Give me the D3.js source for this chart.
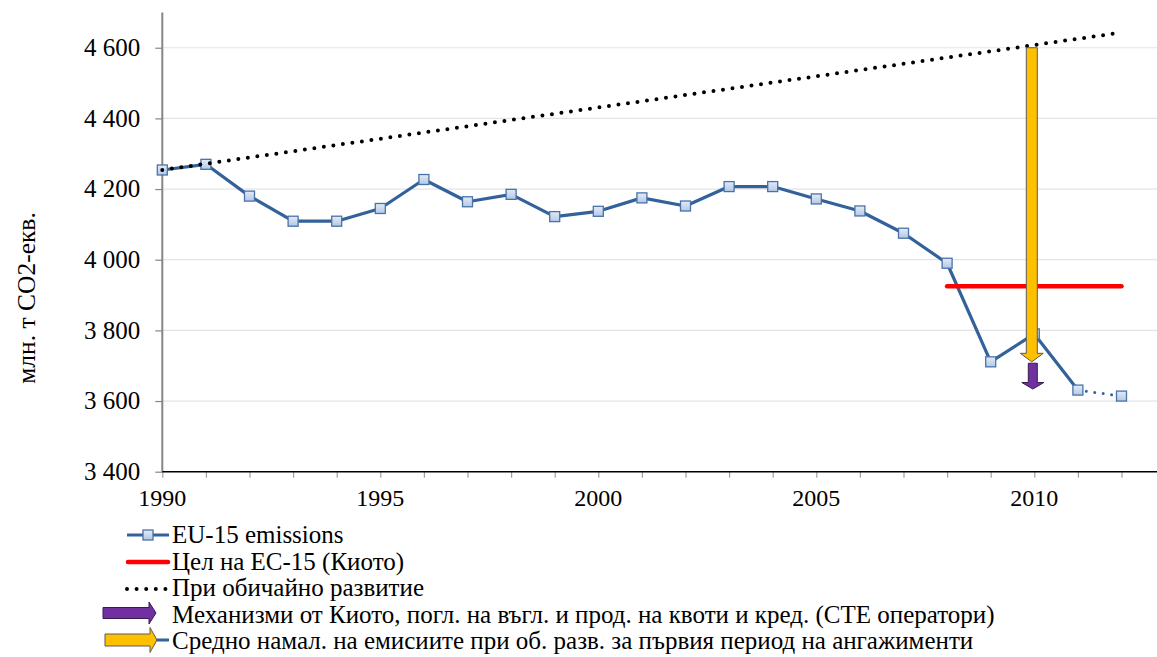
<!DOCTYPE html>
<html><head><meta charset="utf-8">
<script src="https://cdn.jsdelivr.net/npm/d3@7"></script>
<style>
body{margin:0;background:#fff}
svg{display:block}
</style>
</head><body>
<svg id="c" width="1157" height="657"></svg>
<script>
// ---------- data ----------
const years = [1990,1991,1992,1993,1994,1995,1996,1997,1998,1999,2000,2001,2002,2003,2004,2005,2006,2007,2008,2009,2010,2011,2012];
const emissions = [4254,4270,4180,4109,4109,4145,4227,4164,4185,4122,4137,4175,4152,4207,4207,4172,4138,4075,3990,3711,3790,3631,3614];
const projectedFromYear = 2011;           // dotted segment after this year
const targetYears = [2008, 2012];
const targetValues = [3925, 3925];
const bauYears = [1990, 2012];
const bauValues = [4254, 4643];
const arrowYear = 2010;
const yellowArrowValues = [4600, 3711];   // from, to
const purpleArrowValues = [3707, 3634];   // from, to
const yTicks = [3400, 3600, 3800, 4000, 4200, 4400, 4600];
const xTickLabels = [1990, 1995, 2000, 2005, 2010];
const yTitle = "млн. т CO2-екв.";
const legendLabels = [
  "EU-15 emissions",
  "Цел на ЕС-15 (Киото)",
  "При обичайно развитие",
  "Механизми от Киото, погл. на въгл. и прод. на квоти и кред. (СТЕ оператори)",
  "Средно намал. на емисиите при об. разв. за първия период на ангажименти"
];

// ---------- styles ----------
const FONT = "Liberation Serif";
const C = {blue:"#33629a", markerStroke:"#4a72a8", red:"#ff0000",
           yellow:"#ffc000", purple:"#7030a0", grid:"#e4e4e4", axisGray:"#868686"};

const svg = d3.select("#c");
const x = d3.scaleLinear().domain([1990, 2012]).range([162.3, 1121.5]);
const y = d3.scaleLinear().domain([3400, 4700]).range([471.7, 12.4]);
const xEnd = 1157;

function txt(sel, size) {
  return sel.attr("font-family", FONT).style("font-family", FONT).attr("font-size", size).attr("fill", "#000");
}

// gridlines
svg.append("g").selectAll("line").data(yTicks.filter(d => d > 3400)).join("line")
  .attr("x1", x(1990)).attr("x2", xEnd).attr("y1", d => y(d)).attr("y2", d => y(d))
  .attr("stroke", C.grid).attr("stroke-width", 1.2);

// y axis
const gy = svg.append("g").attr("transform", `translate(${x(1990)},0)`)
  .call(d3.axisLeft(y).tickValues(yTicks).tickSize(7).tickFormat(""));
gy.select(".domain").remove();
gy.selectAll(".tick line").attr("stroke", C.axisGray).attr("stroke-width", 1.2);
txt(svg.append("g").selectAll("text").data(yTicks).join("text"), 25)
  .attr("x", x(1990) - 22).attr("y", d => y(d)).attr("dy", "0.33em").attr("text-anchor", "end")
  .text(d => d3.format(",")(d).replace(",", " "));
svg.append("line").attr("x1", x(1990)).attr("x2", x(1990)).attr("y1", y(4700)).attr("y2", y(3400))
  .attr("stroke", C.axisGray).attr("stroke-width", 2);

// x axis
const gx = svg.append("g").attr("transform", `translate(0,${y(3400)})`)
  .call(d3.axisBottom(x).tickValues(years).tickSize(6).tickFormat(""));
gx.select(".domain").remove();
gx.selectAll(".tick line").attr("stroke", "#a0a0a0").attr("stroke-width", 1.2);
txt(svg.append("g").selectAll("text").data(xTickLabels).join("text"), 24)
  .attr("x", d => x(d)).attr("y", y(3400) + 34).attr("text-anchor", "middle").text(d => String(d));
svg.append("line").attr("x1", x(1990)).attr("x2", xEnd).attr("y1", y(3400)).attr("y2", y(3400))
  .attr("stroke", "#000").attr("stroke-width", 1.5);

// y title
txt(svg.append("text"), 25.5).attr("transform", `translate(35,298) rotate(-90)`)
  .attr("text-anchor", "middle").text(yTitle);

// emissions line
const pts = years.map((yr, i) => ({yr, v: emissions[i]}));
const line = d3.line().x(d => x(d.yr)).y(d => y(d.v));
svg.append("path").datum(pts.filter(d => d.yr <= projectedFromYear)).attr("d", line)
  .attr("fill", "none").attr("stroke", C.blue).attr("stroke-width", 3.2).attr("stroke-linejoin", "round");
svg.append("path").datum(pts.filter(d => d.yr >= projectedFromYear)).attr("d", line)
  .attr("fill", "none").attr("stroke", C.blue).attr("stroke-width", 3).attr("stroke-linecap", "round")
  .attr("stroke-dasharray", "0 8.5");

// markers
const defs = svg.append("defs");
const grad = defs.append("linearGradient").attr("id", "mk").attr("x1", 0).attr("y1", 0).attr("x2", 0).attr("y2", 1);
grad.append("stop").attr("offset", "0%").attr("stop-color", "#e3ebf7");
grad.append("stop").attr("offset", "100%").attr("stop-color", "#b3c8e6");
svg.append("g").selectAll("rect").data(pts).join("rect")
  .attr("x", d => x(d.yr) - 5).attr("y", d => y(d.v) - 5).attr("width", 10).attr("height", 10)
  .attr("fill", "url(#mk)").attr("stroke", C.markerStroke).attr("stroke-width", 1.3);

// target line
svg.append("path").datum(targetYears.map((yr, i) => ({yr, v: targetValues[i]}))).attr("d", line)
  .attr("fill", "none").attr("stroke", C.red).attr("stroke-width", 4.5).attr("stroke-linecap", "round");

// BAU dotted line
svg.append("path").datum(bauYears.map((yr, i) => ({yr, v: bauValues[i]}))).attr("d", line)
  .attr("fill", "none").attr("stroke", "#000").attr("stroke-width", 4).attr("stroke-linecap", "round")
  .attr("stroke-dasharray", "0 9.6");

// arrows
function vArrow(cx, y0, y1, shaftHalf, headHalf, headLen) {
  const yh = y1 - headLen;
  return `M${cx-shaftHalf},${y0}L${cx+shaftHalf},${y0}L${cx+shaftHalf},${yh}L${cx+headHalf},${yh}L${cx},${y1}L${cx-headHalf},${yh}L${cx-shaftHalf},${yh}Z`;
}
function hArrow(x0, x1, cy, shaftHalf, headHalf, headLen) {
  const xh = x1 - headLen;
  return `M${x0},${cy-shaftHalf}L${xh},${cy-shaftHalf}L${xh},${cy-headHalf}L${x1},${cy}L${xh},${cy+headHalf}L${xh},${cy+shaftHalf}L${x0},${cy+shaftHalf}Z`;
}
const ax = x(arrowYear) - 2.5;
svg.append("path").attr("d", vArrow(ax, y(yellowArrowValues[0]), y(yellowArrowValues[1]), 5.5, 11.5, 8.5))
  .attr("fill", C.yellow).attr("stroke", "#5a5a5a").attr("stroke-width", 1);
svg.append("path").attr("d", vArrow(ax + 1, y(purpleArrowValues[0]), y(purpleArrowValues[1]), 4.5, 11, 6.5))
  .attr("fill", C.purple).attr("stroke", "#3a1a55").attr("stroke-width", 1);

// legend
const lg = svg.append("g");
const rowY = i => 543 + 26.5 * i;   // text baseline
legendLabels.forEach((t, i) => {
  txt(lg.append("text"), 25).attr("x", 172).attr("y", rowY(i)).text(t);
});
// row 1
lg.append("line").attr("x1", 127).attr("x2", 169).attr("y1", 535).attr("y2", 535)
  .attr("stroke", C.blue).attr("stroke-width", 3);
lg.append("rect").attr("x", 143).attr("y", 530).attr("width", 10).attr("height", 10)
  .attr("fill", "url(#mk)").attr("stroke", C.markerStroke).attr("stroke-width", 1.3);
// row 2
lg.append("line").attr("x1", 128).attr("x2", 168).attr("y1", 562).attr("y2", 562)
  .attr("stroke", C.red).attr("stroke-width", 4.5).attr("stroke-linecap", "round");
// row 3
lg.append("line").attr("x1", 127).attr("x2", 168).attr("y1", 589).attr("y2", 589)
  .attr("stroke", "#000").attr("stroke-width", 4).attr("stroke-linecap", "round").attr("stroke-dasharray", "0 9.6");
// row 4
lg.append("path").attr("d", hArrow(103, 156, 613, 5.5, 11, 7))
  .attr("fill", C.purple).attr("stroke", "#3a1a55").attr("stroke-width", 1);
// row 5
lg.append("line").attr("x1", 155).attr("x2", 169).attr("y1", 640).attr("y2", 640)
  .attr("stroke", C.blue).attr("stroke-width", 3);
lg.append("path").attr("d", hArrow(105, 157, 640, 6, 12.5, 7))
  .attr("fill", C.yellow).attr("stroke", "#5a5a5a").attr("stroke-width", 1);
</script>
</body></html>
